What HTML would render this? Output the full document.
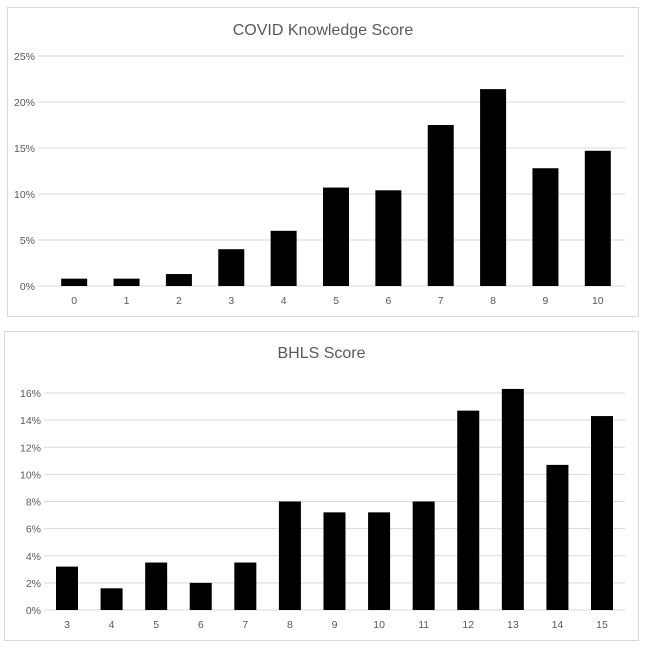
<!DOCTYPE html>
<html><head><meta charset="utf-8"><style>
body{margin:0;background:#fff;font-family:"Liberation Sans",sans-serif}
svg text{font-family:"Liberation Sans",sans-serif;fill:#595959}
</style></head><body>
<svg width="647" height="649" xmlns="http://www.w3.org/2000/svg">
<g id="c1"></g>
<g id="c2"></g>
</svg>
<script>
const covidCats=["0","1","2","3","4","5","6","7","8","9","10"];
const covidVals=[0.8,0.8,1.3,4.0,6.0,10.7,10.4,17.5,21.4,12.8,14.7];
const covidTicks=[0,5,10,15,20,25];
const bhlsCats=["3","4","5","6","7","8","9","10","11","12","13","14","15"];
const bhlsVals=[3.2,1.6,3.5,2.0,3.5,8.0,7.2,7.2,8.0,14.7,16.3,10.7,14.3];
const bhlsTicks=[0,2,4,6,8,10,12,14,16];
const NS="http://www.w3.org/2000/svg";
function mk(p,t,a){const e=document.createElementNS(NS,t);for(const k in a)e.setAttribute(k,a[k]);p.appendChild(e);return e;}
function chart(g,o,cats,vals,ticks,title){
  const box=mk(g,'rect',{x:o.bx,y:o.by,width:o.bw,height:o.bh,fill:'#fff',stroke:'#d9d9d9'});
  
  
  const t=mk(g,'text',{x:(o.bx+o.bw/2),y:o.ty,'text-anchor':'middle','font-size':16});
  t.textContent=title;
  
  
  const max=ticks[ticks.length-1];
  const y=v=>o.y0-(v/max)*(o.y0-o.yTop);
  const step=(o.xr-o.xl)/cats.length;
  const x=i=>o.xl+step*(i+0.5);
  ticks.forEach(v=>{
    const l=mk(g,'line',{x1:o.gl,x2:o.gr,y1:y(v),y2:y(v),stroke:'#d9d9d9'});
    
    
    const tx=mk(g,'text',{x:o.gl-3,y:y(v)+4,'text-anchor':'end','font-size':10.5});
    tx.textContent=v+'%';
    
    
  });
  cats.forEach((c,i)=>{
    const r=mk(g,'rect',{x:x(i)-o.bwid/2,y:y(vals[i]),width:o.bwid,height:o.y0-y(vals[i]),fill:'#000'});
    
    
    const tx=mk(g,'text',{x:x(i),y:o.y0+18,'text-anchor':'middle','font-size':10.5});
    tx.textContent=c;
    
    
  });
}
chart(document.getElementById('c1'),{bx:7.5,by:7.5,bw:631,bh:309,ty:35,y0:286,yTop:56,gl:38,gr:625,xl:48,xr:624,bwid:26},covidCats,covidVals,covidTicks,"COVID Knowledge Score");
chart(document.getElementById('c2'),{bx:4.5,by:331.5,bw:634,bh:309,ty:358,y0:610,yTop:393,gl:44,gr:625,xl:44.7,xr:624.3,bwid:22},bhlsCats,bhlsVals,bhlsTicks,"BHLS Score");
</script>
</body></html>
